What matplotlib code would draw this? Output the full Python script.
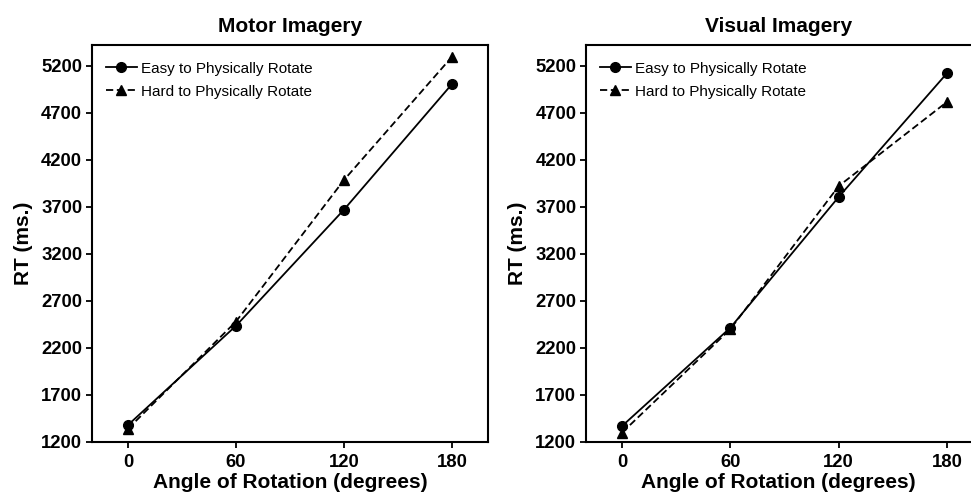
import matplotlib
matplotlib.use('Agg')
import matplotlib.pyplot as plt

plt.rcParams['font.family'] = ['Liberation Sans', 'DejaVu Sans']

angles = [0, 60, 120, 180]
motor_easy = [1380, 2435, 3670, 5005]
motor_hard = [1340, 2480, 3985, 5295]
visual_easy = [1370, 2415, 3805, 5120]
visual_hard = [1300, 2400, 3920, 4815]
yticks = [1200, 1700, 2200, 2700, 3200, 3700, 4200, 4700, 5200]
titles = ['Motor Imagery', 'Visual Imagery']

fig = plt.figure(figsize=(9.71, 4.96), dpi=100)
ax1 = fig.add_axes([0.0947, 0.1089, 0.4079, 0.8004])
ax2 = fig.add_axes([0.6035, 0.1089, 0.3965, 0.8004])

panels = [(ax1, motor_easy, motor_hard, (-20, 200)),
          (ax2, visual_easy, visual_hard, (-20, 193.3))]

for i, (ax, easy, hard, xl) in enumerate(panels):
    ax.plot(angles, easy, '-', color='black', lw=1.3, marker='o', ms=7,
            label='Easy to Physically Rotate')
    ax.plot(angles, hard, '--', color='black', lw=1.3, marker='^', ms=7,
            dashes=(4, 2), label='Hard to Physically Rotate')
    ax.set_xlim(*xl)
    ax.set_ylim(1200, 5420)
    ax.set_xticks(angles)
    ax.set_yticks(yticks)
    for lab in ax.get_xticklabels() + ax.get_yticklabels():
        lab.set_fontweight('bold')
        lab.set_fontsize(13.3)
    ax.tick_params(direction='out', length=4, width=1.3, pad=3)
    ax.tick_params(axis='x', pad=5)
    for s in ax.spines.values():
        s.set_linewidth(1.5)
    ax.set_title(titles[i], fontsize=15, fontweight='bold', pad=9)
    ax.set_xlabel('Angle of Rotation (degrees)', fontsize=15,
                  fontweight='bold', labelpad=1)
    ax.set_ylabel('RT (ms.)', fontsize=15, fontweight='bold', labelpad=6)
    ax.legend(loc='upper left', frameon=False, fontsize=11,
              handlelength=2.0, handletextpad=0.3, labelspacing=0.6,
              borderaxespad=0.4, bbox_to_anchor=(0.005, 0.989))

ax2.spines['right'].set_visible(False)

fig.savefig('out.png', dpi=100)
